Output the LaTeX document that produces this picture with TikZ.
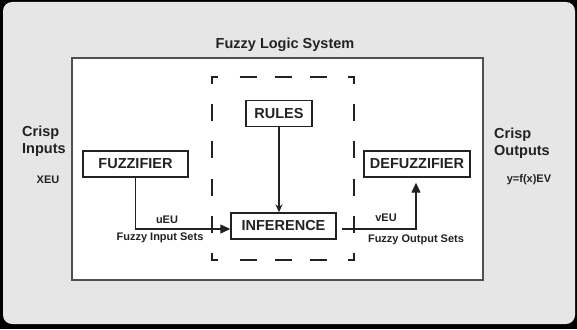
\documentclass[tikz,border=0pt]{standalone}
\usepackage{fontspec}
\setmainfont{Liberation Sans}
\usetikzlibrary{arrows.meta}
\definecolor{bggray}{HTML}{E6E6E6}
\definecolor{ink}{HTML}{222222}
\definecolor{frame}{HTML}{505050}
\begin{document}
\begin{tikzpicture}[x=1pt,y=-1pt,
  box/.style={draw=ink,line width=1.4pt,fill=white,minimum height=26pt,inner sep=0pt,font=\fontsize{14.5}{16}\selectfont\bfseries,text=ink},
  big/.style={font=\fontsize{14.5}{17}\selectfont\bfseries,text=ink},
  small/.style={font=\fontsize{11}{13}\selectfont\bfseries,text=ink},
  conn/.style={draw=ink,line width=1.2pt},
  bigtip/.style={-{Triangle[length=10pt,width=9pt]}},
  smalltip/.style={-{Stealth[length=8pt,width=7pt]}}]
\useasboundingbox (0,0) rectangle (577,329);
\fill[black] (0,0) rectangle (577,329);
\fill[bggray,rounded corners=9pt] (3,2) rectangle (575,324);
\draw[frame,line width=1.5pt,fill=white] (72,58) rectangle (483,280);
\node[big] (title) at (285,45) {Fuzzy Logic System};
\draw[ink,line width=1.4pt,line join=miter,
  dash pattern=on 17pt off 18pt on 17pt off 18pt on 17pt off 21.5pt on 13pt
  off 20.2pt on 17pt off 20.2pt on 17pt off 20.2pt on 17pt off 20.2pt on 17pt off 20.2pt on 13pt
  off 21.5pt on 17pt off 18pt on 17pt off 18pt on 17pt off 21.5pt on 13pt
  off 20.2pt on 17pt off 20.2pt on 17pt off 20.2pt on 17pt off 20.2pt on 17pt off 20.2pt on 13pt
  off 21.5pt]
  (239.5,77) -- (354,77) -- (354,260) -- (212,260) -- (212,77) -- cycle;
\node[box,minimum width=66pt] (rules) at (279,113.5) {RULES};
\node[box,minimum width=105pt] (fuzz) at (135.5,164) {FUZZIFIER};
\node[box,minimum width=106pt] (defuzz) at (417,164) {DEFUZZIFIER};
\node[box,minimum width=105pt] (inf) at (283.5,226) {INFERENCE};
\draw[conn,bigtip] (fuzz.south) |- ([yshift=-3pt]inf.west);
\draw[conn,smalltip] (rules.south) -- (rules.south |- inf.north);
\coordinate (corner) at (416,229);
\draw[conn,bigtip,shorten >=5pt] ([yshift=-3pt,xshift=5pt]inf.east) -- (corner) -- (defuzz.south -| corner);
\node[small] (ueu) at (167,220) {uEU};
\node[small] (fis) at (160,238) {Fuzzy Input Sets};
\node[small] (veu) at (386,218) {vEU};
\node[small] (fos) at (416,240) {Fuzzy Output Sets};
\node[big,anchor=west,align=left,inner sep=0pt] (ci) at (22,141.5) {Crisp\\Inputs};
\node[small] (xeu) at (48,180) {XEU};
\node[big,anchor=west,align=left,inner sep=0pt] (co) at (494,143.5) {Crisp\\Outputs};
\node[small] (yfx) at (529,180) {y=f(x)EV};
\end{tikzpicture}
\end{document}
